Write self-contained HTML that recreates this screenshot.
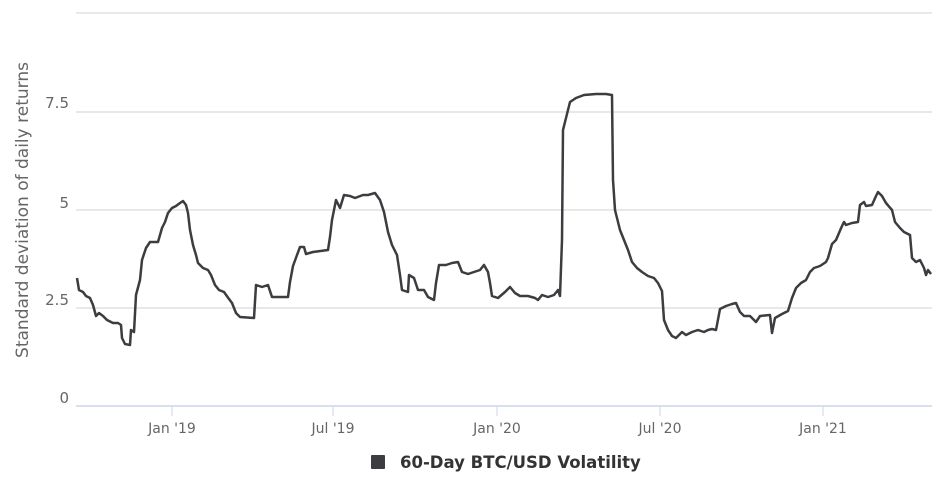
<!DOCTYPE html>
<html><head><meta charset="utf-8"><style>
body{margin:0;background:#fff;width:949px;height:485px;overflow:hidden;font-family:"DejaVu Sans","Liberation Sans",sans-serif}
</style></head><body>
<svg width="949" height="485" xmlns="http://www.w3.org/2000/svg" font-family="DejaVu Sans, Liberation Sans, sans-serif">
<g stroke="#e0e0e0" stroke-width="1.5">
<line x1="76" y1="13" x2="932" y2="13"/>
<line x1="76" y1="112" x2="932" y2="112"/>
<line x1="76" y1="210" x2="932" y2="210"/>
<line x1="76" y1="308" x2="932" y2="308"/>
</g>
<line x1="76" y1="406" x2="932" y2="406" stroke="#ccd6eb" stroke-width="1.5"/>
<g stroke="#ccd6eb" stroke-width="1">
<line x1="172" y1="406" x2="172" y2="416"/><line x1="333" y1="406" x2="333" y2="416"/>
<line x1="497" y1="406" x2="497" y2="416"/><line x1="660" y1="406" x2="660" y2="416"/>
<line x1="823" y1="406" x2="823" y2="416"/>
</g>
<g font-size="15" fill="#666" text-anchor="end">
<text x="69" y="108">7.5</text><text x="69" y="208">5</text><text x="69" y="305">2.5</text><text x="69" y="403">0</text>
</g>
<g font-size="14" fill="#666" text-anchor="middle">
<text x="172" y="433">Jan '19</text><text x="333" y="433">Jul '19</text><text x="497" y="433">Jan '20</text><text x="660" y="433">Jul '20</text><text x="823" y="433">Jan '21</text>
</g>
<text transform="translate(28,210) rotate(-90)" font-size="17" fill="#666" text-anchor="middle">Standard deviation of daily returns</text>
<polyline fill="none" stroke="#3c3c41" stroke-width="2.5" stroke-linejoin="round" points="77,278 79,290 83,292 86,296 90,298 93,305 96,316 99,313 103,316 107,320 113,323 118,323 121,325 122,338 125,344 130,345 131,330 134,332 136,295 140,280 142,260 146,248 150,242 158,242 162,228 165,222 168,213 172,208 176,206 180,203 183,201 186,205 188,213 190,230 193,245 196,255 198,263 203,268 208,270 211,275 215,285 219,290 224,292 229,299 232,303 236,313 240,317 254,318 256,285 262,287 268,285 272,297 288,297 290,282 293,266 297,255 300,247 304,247 306,254 313,252 328,250 330,237 332,220 336,200 340,208 344,195 350,196 355,198 363,195 368,195 375,193 380,200 384,212 388,232 392,245 397,255 400,275 402,290 408,292 409,275 414,278 418,290 424,290 428,297 434,300 436,283 439,265 446,265 452,263 458,262 462,272 468,274 474,272 480,270 484,265 488,272 490,283 492,296 498,298 505,292 510,287 515,293 520,296 528,296 535,298 538,300 542,295 548,297 554,295 558,290 560,296 562,240 563,130 566,118 570,102 576,98 584,95 596,94 606,94 612,95 613,180 615,210 620,230 624,240 628,250 632,262 637,268 642,272 648,276 654,278 658,283 662,291 664,320 668,330 672,336 676,338 682,332 686,335 692,332 698,330 704,332 708,330 712,329 716,330 720,309 726,306 732,304 736,303 740,312 744,316 750,316 756,322 760,316 770,315 772,333 775,318 782,314 788,311 792,298 796,288 801,283 806,280 810,272 814,268 820,266 826,262 828,258 832,244 836,240 842,226 844,222 846,225 852,223 858,222 860,205 864,202 866,206 872,205 876,196 878,192 882,196 886,203 892,210 895,222 900,228 904,232 910,235 912,258 916,262 920,260 924,268 926,275 928,270 931,274"/>
<rect x="371" y="455" width="14" height="14" fill="#3c3c41" rx="1"/>
<text x="400" y="468" font-size="16.5" font-weight="bold" fill="#333">60-Day BTC/USD Volatility</text>
</svg>
</body></html>
